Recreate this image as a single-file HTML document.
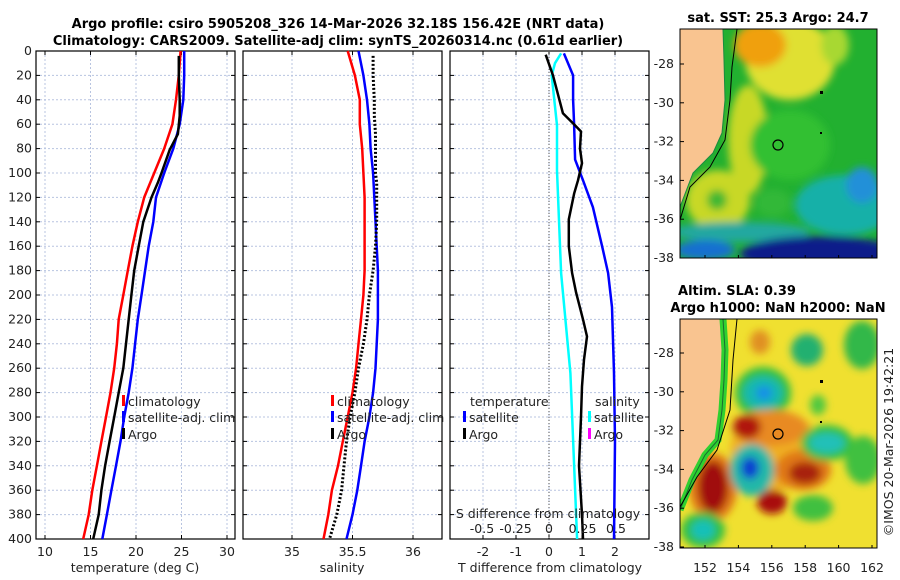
<!DOCTYPE html>
<html><head><meta charset="utf-8">
<style>
html,body{margin:0;padding:0;background:#fff;}
svg{display:block;font-family:"DejaVu Sans","Liberation Sans",sans-serif;}
.t{font-size:12.5px;fill:#222;}
.b{font-size:13px;font-weight:bold;fill:#000;}
</style></head><body>
<svg id="c" width="900" height="580" viewBox="0 0 900 580" xmlns="http://www.w3.org/2000/svg">
<defs>
<filter id="bl" x="-50%" y="-50%" width="200%" height="200%"><feGaussianBlur stdDeviation="4"/></filter>
<clipPath id="cm1"><rect x="680" y="29" width="197" height="229"/></clipPath>
<clipPath id="cm2"><rect x="680" y="319" width="197" height="229"/></clipPath>
</defs>
<text class="b" x="338" y="28" text-anchor="middle">Argo profile: csiro 5905208_326 14-Mar-2026 32.18S 156.42E (NRT data)</text>
<text class="b" x="338" y="45" text-anchor="middle">Climatology: CARS2009. Satellite-adj clim: synTS_20260314.nc (0.61d earlier)</text>
<g id="p1"></g>
<g id="p2"></g>
<g id="p3"></g>

<text class="b" x="778" y="22" text-anchor="middle">sat. SST: 25.3 Argo: 24.7</text>
<g clip-path="url(#cm1)">
<rect x="680" y="29" width="197" height="229" fill="#22b030"/>
<g filter="url(#bl)">
<ellipse cx="790" cy="60" rx="45" ry="40" fill="#e0e030"/>
<ellipse cx="760" cy="45" rx="26" ry="22" fill="#f0a010"/>
<ellipse cx="835" cy="45" rx="14" ry="20" fill="#a8d830"/>
<ellipse cx="748" cy="140" rx="20" ry="55" fill="#c8d828"/>
<ellipse cx="718" cy="200" rx="32" ry="30" fill="#c8d828"/>
<ellipse cx="773" cy="203" rx="18" ry="14" fill="#30b838"/>
<ellipse cx="717" cy="200" rx="10" ry="10" fill="#40b830"/>
<ellipse cx="790" cy="145" rx="40" ry="35" fill="#30c030"/>
<ellipse cx="845" cy="205" rx="50" ry="30" fill="#18b0a8"/>
<ellipse cx="862" cy="185" rx="16" ry="18" fill="#2090d8"/>
<ellipse cx="740" cy="232" rx="70" ry="10" fill="#20a8a0"/>
<ellipse cx="820" cy="254" rx="80" ry="18" fill="#0a1a8a"/>
<ellipse cx="705" cy="250" rx="30" ry="10" fill="#1870d0"/>
</g>
<polygon points="680,29 723,29 724,60 725,100 722,133 713,153 693,173 680,207" fill="#f9c490"/>
<polyline points="723,29 724,60 725,100 722,133 713,153 693,173 680,207" fill="none" stroke="#1a8a40" stroke-width="1"/>
<polyline points="737,29 732,67 730,100 725,140 710,167 690,187 680,220" fill="none" stroke="#000" stroke-width="1"/>
<circle cx="778" cy="145" r="5" fill="none" stroke="#000" stroke-width="1.2"/>
<rect x="820" y="91" width="3" height="3" fill="#000"/>
<rect x="820" y="132" width="2" height="2" fill="#000"/>
</g>
<rect x="680" y="29" width="197" height="229" fill="none" stroke="#000"/>

<text class="b" x="737" y="295" text-anchor="middle">Altim. SLA: 0.39</text>
<text class="b" x="778" y="312" text-anchor="middle">Argo h1000: NaN h2000: NaN</text>
<g clip-path="url(#cm2)">
<rect x="680" y="319" width="197" height="229" fill="#f0e030"/>
<g filter="url(#bl)">
<ellipse cx="760" cy="342" rx="10" ry="12" fill="#e09020"/>
<ellipse cx="807" cy="350" rx="16" ry="16" fill="#20b070"/>
<ellipse cx="862" cy="345" rx="18" ry="24" fill="#30b848"/>
<ellipse cx="763" cy="393" rx="28" ry="26" fill="#30c040"/>
<ellipse cx="763" cy="393" rx="20" ry="17" fill="#18b8b0"/>
<ellipse cx="764" cy="393" rx="8" ry="7" fill="#1890e8"/>
<ellipse cx="775" cy="450" rx="45" ry="40" fill="#f0b020"/>
<ellipse cx="770" cy="428" rx="38" ry="18" fill="#e88a20"/>
<ellipse cx="747" cy="427" rx="14" ry="12" fill="#b01808"/>
<ellipse cx="803" cy="470" rx="28" ry="20" fill="#e07818"/>
<ellipse cx="805" cy="473" rx="16" ry="11" fill="#a82008"/>
<ellipse cx="713" cy="487" rx="24" ry="34" fill="#e07818"/>
<ellipse cx="713" cy="487" rx="15" ry="26" fill="#a00808"/>
<ellipse cx="752" cy="470" rx="22" ry="26" fill="#20b8a8"/>
<ellipse cx="750" cy="468" rx="9" ry="11" fill="#1040d0"/>
<ellipse cx="772" cy="502" rx="15" ry="12" fill="#a81008"/>
<ellipse cx="827" cy="443" rx="26" ry="18" fill="#30c040"/>
<ellipse cx="827" cy="443" rx="18" ry="10" fill="#20c0b8"/>
<ellipse cx="863" cy="460" rx="18" ry="24" fill="#40c040"/>
<ellipse cx="813" cy="508" rx="20" ry="13" fill="#40c040"/>
<ellipse cx="703" cy="530" rx="22" ry="18" fill="#30c040"/>
<ellipse cx="703" cy="530" rx="12" ry="10" fill="#18c0b8"/>
<ellipse cx="818" cy="405" rx="8" ry="10" fill="#50c840"/>
</g>
<polygon points="680,319 723,319 725,350 724,380 722,410 718,440 705,455 692,480 680,510" fill="#f9c490"/>
<polyline points="723,319 725,350 724,380 722,410 718,440 705,455 692,480 680,510" fill="none" stroke="#30d030" stroke-width="7"/>
<polyline points="723,319 725,350 724,380 722,410 718,440 705,455 692,480 680,510" fill="none" stroke="#1a6a30" stroke-width="1"/>
<polyline points="737,319 733,360 730,410 717,450 697,477 680,507" fill="none" stroke="#000" stroke-width="1"/>
<circle cx="778" cy="434" r="5" fill="none" stroke="#000" stroke-width="1.2"/>
<rect x="820" y="380" width="3" height="3" fill="#000"/>
<rect x="820" y="421" width="2" height="2" fill="#000"/>
</g>
<rect x="680" y="319" width="197" height="229" fill="none" stroke="#000"/>
<g id="maxes"></g>
<text class="t" x="893" y="442" text-anchor="middle" transform="rotate(-90 893 442)">©IMOS 20-Mar-2026 19:42:21</text>
</svg>
<script>
// ---- data ----
const depthTicks=[0,20,40,60,80,100,120,140,160,180,200,220,240,260,280,300,320,340,360,380,400];
const tTicks=[10,15,20,25,30];
const sTicks=[35,35.5,36];
const dTTicks=[-2,-1,0,1,2];
const dSTicks=[-0.5,-0.25,0,0.25,0.5];
const dSTickLabels=["-0.5","-0.25","0","0.25","0.5"];
const depthsClim=[0,20,40,60,80,100,120,140,160,180,200,220,240,260,280,300,320,340,360,380,400];
const tempClim=[24.9,24.7,24.4,24.0,23.1,22.0,20.9,20.2,19.6,19.1,18.6,18.1,17.9,17.6,17.2,16.7,16.2,15.7,15.2,14.8,14.2];
const tempSat=[25.3,25.3,25.2,24.8,24.1,23.1,22.2,21.9,21.4,21.0,20.6,20.2,19.9,19.6,19.2,18.7,18.3,17.8,17.3,16.8,16.3];
const depthsArgo=[4,20,40,53,68,81,100,108,120,140,160,180,200,220,240,260,280,300,320,340,360,380,400];
const tempArgo=[24.7,24.7,24.8,24.8,24.6,23.7,22.8,22.4,21.7,20.8,20.3,19.8,19.5,19.2,18.9,18.6,18.1,17.6,17.1,16.6,16.2,15.9,15.3];
const salClim=[35.46,35.52,35.56,35.56,35.58,35.59,35.60,35.60,35.60,35.60,35.59,35.57,35.55,35.53,35.50,35.46,35.42,35.38,35.33,35.30,35.26];
const salSat=[35.55,35.59,35.62,35.64,35.65,35.67,35.68,35.69,35.70,35.71,35.71,35.71,35.70,35.69,35.67,35.64,35.60,35.57,35.54,35.50,35.45];
const salArgo=[35.67,35.67,35.68,35.68,35.69,35.69,35.69,35.70,35.70,35.70,35.69,35.67,35.64,35.62,35.59,35.55,35.52,35.48,35.45,35.43,35.41,35.37,35.31];
const dTSatDepths=[2,20,40,60,89,106,128,160,182,210,264,320,400];
const dTSat=[0.45,0.73,0.73,0.76,0.79,1.03,1.33,1.61,1.79,1.91,1.97,2.0,1.97];
const dTArgoDepths=[3,20,51,61,66,80,92,106,117,138,160,182,198,220,234,253,275,300,340,380,400];
const dTArgo=[-0.1,0.12,0.42,0.79,0.97,0.94,1.0,0.88,0.76,0.6,0.6,0.7,0.82,1.03,1.15,1.06,1.0,0.97,0.91,1.0,1.03];
const dSSatDepths=[2,10,20,61,98,182,264,400];
const dSSat=[0.09,0.045,0.02,0.06,0.06,0.09,0.16,0.21];
const mapLon=[152,154,156,158,160,162];
const mapLat=[-28,-30,-32,-34,-36,-38];
// ---- helpers ----
const NS="http://www.w3.org/2000/svg";
const Y0=51,Y1=539;
const yD=d=>Y0+(d-0)/(400-0)*(Y1-Y0);
function mk(tag,attrs,parent){const e=document.createElementNS(NS,tag);for(const k in attrs)e.setAttribute(k,attrs[k]);parent.appendChild(e);return e;}
function panel(g,x0,x1,ticks,xs,leftLabels){
  for(const t of ticks){const x=xs(t);const l=mk('line',{x1:x,x2:x,y1:Y0,y2:Y1,stroke:'#b8c4e0','stroke-dasharray':'2,2','stroke-width':1},g);
  
  mk('line',{x1:x,x2:x,y1:Y1,y2:Y1-4,stroke:'#000'},g);mk('line',{x1:x,x2:x,y1:Y0,y2:Y0+4,stroke:'#000'},g);}
  for(const d of depthTicks){const y=yD(d);const l=mk('line',{x1:x0,x2:x1,y1:y,y2:y,stroke:'#b8c4e0','stroke-dasharray':'2,2','stroke-width':1},g);
  
  mk('line',{x1:x0,x2:x0+4,y1:y,y2:y,stroke:'#000'},g);mk('line',{x1:x1,x2:x1-4,y1:y,y2:y,stroke:'#000'},g);
  if(leftLabels){const tx=mk('text',{x:x0-4,y:y+4,'text-anchor':'end',class:'t'},g);tx.textContent=d;
  }}
  const f=mk('rect',{x:x0,y:Y0,width:x1-x0,height:Y1-Y0,fill:'none',stroke:'#000','stroke-width':1.2},g);
  
}
function line(g,xs,vals,deps,color,w,dash,name){
  const pts=vals.map((v,i)=>xs(v).toFixed(1)+','+yD(deps[i]).toFixed(1)).join(' ');
  const p=mk('polyline',{points:pts,fill:'none',stroke:color,'stroke-width':w,'stroke-linejoin':'round'},g);
  if(dash)p.setAttribute('stroke-dasharray',dash);
  
}
function txt(g,x,y,s,anchor,name){const t=mk('text',{x:x,y:y,'text-anchor':anchor||'start',class:'t'},g);t.textContent=s;
  return t;}
function leg(g,x,y,color,label){mk('rect',{x:x,y:y-11,width:3,height:11,fill:color},g);
  txt(g,x+6,y,label,'start','legend-entry');}
// panel 1
const p1=document.getElementById('p1');
const xT=t=>45+(t-10)*9.1;
panel(p1,36,235,tTicks,xT,true);
line(p1,xT,tempClim,depthsClim,'#f00',2.5,null,'temp-climatology-line');
line(p1,xT,tempSat,depthsClim,'#00f',2.5,null,'temp-satellite-line');
line(p1,xT,tempArgo,depthsArgo,'#000',2.5,null,'temp-argo-line');
for(const t of tTicks){txt(p1,xT(t),556,String(t),'middle','x-tick-label');}
txt(p1,135,572,'temperature (deg C)','middle','x-axis-title');
leg(p1,122,406,'#f00','climatology');
leg(p1,122,422,'#00f','satellite-adj. clim');
leg(p1,122,439,'#000','Argo');
// panel 2
const p2=document.getElementById('p2');
const xS=s=>292+(s-35)*121;
panel(p2,243,442,sTicks,xS,false);
line(p2,xS,salClim,depthsClim,'#f00',2.5,null,'sal-climatology-line');
line(p2,xS,salSat,depthsClim,'#00f',2.5,null,'sal-satellite-line');
line(p2,xS,salArgo,depthsArgo,'#000',3,'2,2','sal-argo-line');
for(const s of sTicks){txt(p2,xS(s),556,String(s),'middle','x-tick-label');}
txt(p2,342,572,'salinity','middle','x-axis-title');
leg(p2,331,406,'#f00','climatology');
leg(p2,331,422,'#00f','satellite-adj. clim');
leg(p2,331,439,'#000','Argo');
// panel 3
const p3=document.getElementById('p3');
const xDT=v=>549+v*33;
const xDS=v=>549+v*134;
panel(p3,450,649,dTTicks,xDT,false);
const z=mk('line',{x1:xDT(0),x2:xDT(0),y1:Y0,y2:Y1,stroke:'#555','stroke-dasharray':'1,2'},p3);

line(p3,xDS,dSSat,dSSatDepths,'#0ff',2.5,null,'sal-diff-satellite-line');
line(p3,xDT,dTSat,dTSatDepths,'#00f',2.5,null,'temp-diff-satellite-line');
line(p3,xDT,dTArgo,dTArgoDepths,'#000',2.5,null,'temp-diff-argo-line');
for(const t of dTTicks){txt(p3,xDT(t),556,String(t),'middle','x-tick-label');}
txt(p3,550,572,'T difference from climatology','middle','x-axis-title');
dSTicks.forEach((v,i)=>txt(p3,xDS(v),533,dSTickLabels[i],'middle','s-tick-label'));
txt(p3,548,518,'S difference from climatology','middle','s-axis-title');
txt(p3,470,406,'temperature','start','legend-heading');
txt(p3,595,406,'salinity','start','legend-heading');
leg(p3,463,422,'#00f','satellite');leg(p3,463,439,'#000','Argo');
leg(p3,588,422,'#0ff','satellite');leg(p3,588,439,'#f0f','Argo');
// map axes
const ma=document.getElementById('maxes');
const mx=l=>705+(l-152)*16.7;
const my1=l=>64+(l+28)*(-19.4);
const my2=l=>353+(l+28)*(-19.4);
for(const l of mapLon){txt(ma,mx(l),572,String(l),'middle','map-lon-label');
  mk('line',{x1:mx(l),x2:mx(l),y1:258,y2:255,stroke:'#000'},ma);mk('line',{x1:mx(l),x2:mx(l),y1:548,y2:545,stroke:'#000'},ma);}
for(const l of mapLat){txt(ma,674,my1(l)+4,String(l),'end','map-lat-label');txt(ma,674,my2(l)+4,String(l),'end','map-lat-label');
  mk('line',{x1:680,x2:684,y1:my1(l),y2:my1(l),stroke:'#000'},ma);mk('line',{x1:680,x2:684,y1:my2(l),y2:my2(l),stroke:'#000'},ma);}
</script>
</body></html>
